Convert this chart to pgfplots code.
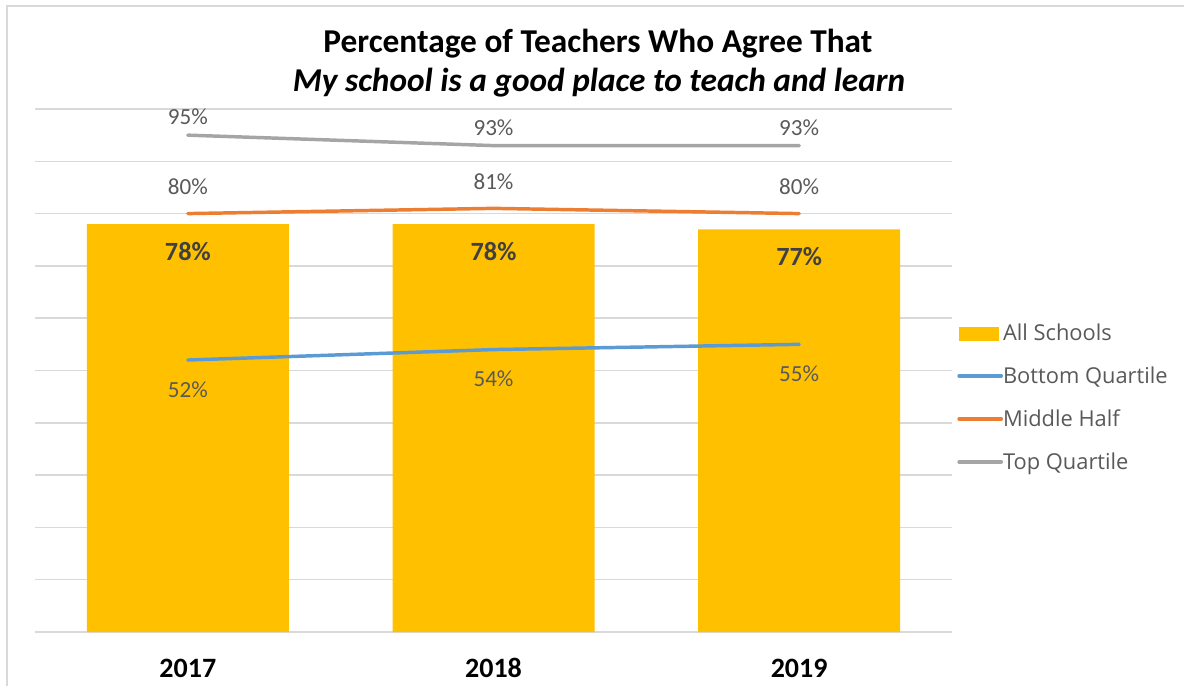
\documentclass[border=0pt]{standalone}
\usepackage{pgfplots}
\pgfplotsset{compat=1.18}
\usepackage{fontspec}
\setmainfont{Carlito}
\newfontfamily\legfont{Open Sans}
\definecolor{barY}{HTML}{FFC000}
\definecolor{lblue}{HTML}{5B9BD5}
\definecolor{lorange}{HTML}{ED7D31}
\definecolor{lgrey}{HTML}{A5A5A5}
\definecolor{gridc}{HTML}{D9D9D9}
\definecolor{txt}{HTML}{595959}
\definecolor{bartxt}{HTML}{404040}
\begin{document}
\begin{tikzpicture}
\useasboundingbox (0pt,0pt) rectangle (888pt,513.75pt);
\draw[gridc, line width=1.5pt] (5.25pt,-3pt) -- (5.25pt,509.25pt) -- (895pt,509.25pt);
\node[font=\bfseries\fontsize{25}{30}\selectfont, text=black] at (448.5pt,480.75pt) {Percentage of Teachers Who Agree That};
\node[font=\bfseries\itshape\fontsize{25}{30}\selectfont, text=black] at (449.25pt,451.5pt) {My school is a good place to teach and learn};
\begin{axis}[
  at={(26.25pt,39.75pt)}, anchor=south west,
  scale only axis, width=687.75pt, height=392.25pt,
  xmin=-0.5, xmax=2.5, ymin=0, ymax=100,
  axis line style={draw=none},
  major tick length=0pt,
  /pgf/number format/assume math mode=true,
  ytick={0,10,...,100}, yticklabels={},
  ymajorgrids, grid style={gridc, line width=1.1pt},
  xtick={0,1,2}, xticklabels={2017,2018,2019},
  xticklabel style={font=\bfseries\fontsize{21}{25}\selectfont, text=black, anchor=center, yshift=-27pt},
  legend style={at={(1.0055,0.4446)}, anchor=west, draw=none, fill=none,
    inner xsep=0pt, inner ysep=0pt,
    font=\legfont\fontsize{16.4}{20}\selectfont, text=txt,
    nodes={inner sep=0pt, text height=12pt, text depth=3.5pt},
    row sep=16.75pt,
    /tikz/every even column/.append style={column sep=3pt}},
  legend cell align=left,
]
\addplot[ybar, bar width=151.5pt, fill=barY, draw=none,
  nodes near coords={\pgfmathprintnumber{\pgfplotspointmeta}\%},
  every node near coord/.append style={anchor=center, yshift=-20.5pt, font=\bfseries\fontsize{19.7}{24}\selectfont, text=bartxt},
  legend image code/.code={\fill[barY] (0pt,-4.65pt) rectangle (30pt,6.35pt);}]
  coordinates {(0,78) (1,78) (2,77)};
\addlegendentry{All Schools}
\addplot[lblue, line width=2.6pt, line cap=round, mark=none,
  nodes near coords={\pgfmathprintnumber{\pgfplotspointmeta}\%},
  every node near coord/.append style={anchor=center, yshift=-22pt, font=\fontsize{17.3}{21}\selectfont, text=txt},
  legend image code/.code={\draw[lblue, line width=2.8pt, line cap=round] (0pt,1.6pt) -- (31.5pt,1.6pt);}]
  coordinates {(0,52) (1,54) (2,55)};
\addlegendentry{Bottom Quartile}
\addplot[lorange, line width=2.6pt, line cap=round, mark=none,
  nodes near coords={\pgfmathprintnumber{\pgfplotspointmeta}\%},
  every node near coord/.append style={anchor=center, yshift=20pt, font=\fontsize{17.3}{21}\selectfont, text=txt},
  legend image code/.code={\draw[lorange, line width=2.8pt, line cap=round] (0pt,1.6pt) -- (31.5pt,1.6pt);}]
  coordinates {(0,80) (1,81) (2,80)};
\addlegendentry{Middle Half}
\addplot[lgrey, line width=2.6pt, line cap=round, mark=none,
  nodes near coords={\pgfmathprintnumber{\pgfplotspointmeta}\%},
  every node near coord/.append style={anchor=center, yshift=13.5pt, font=\fontsize{17.3}{21}\selectfont, text=txt},
  legend image code/.code={\draw[lgrey, line width=2.8pt, line cap=round] (0pt,1.6pt) -- (31.5pt,1.6pt);}]
  coordinates {(0,95) (1,93) (2,93)};
\addlegendentry{Top Quartile}
\end{axis}
\end{tikzpicture}
\end{document}
